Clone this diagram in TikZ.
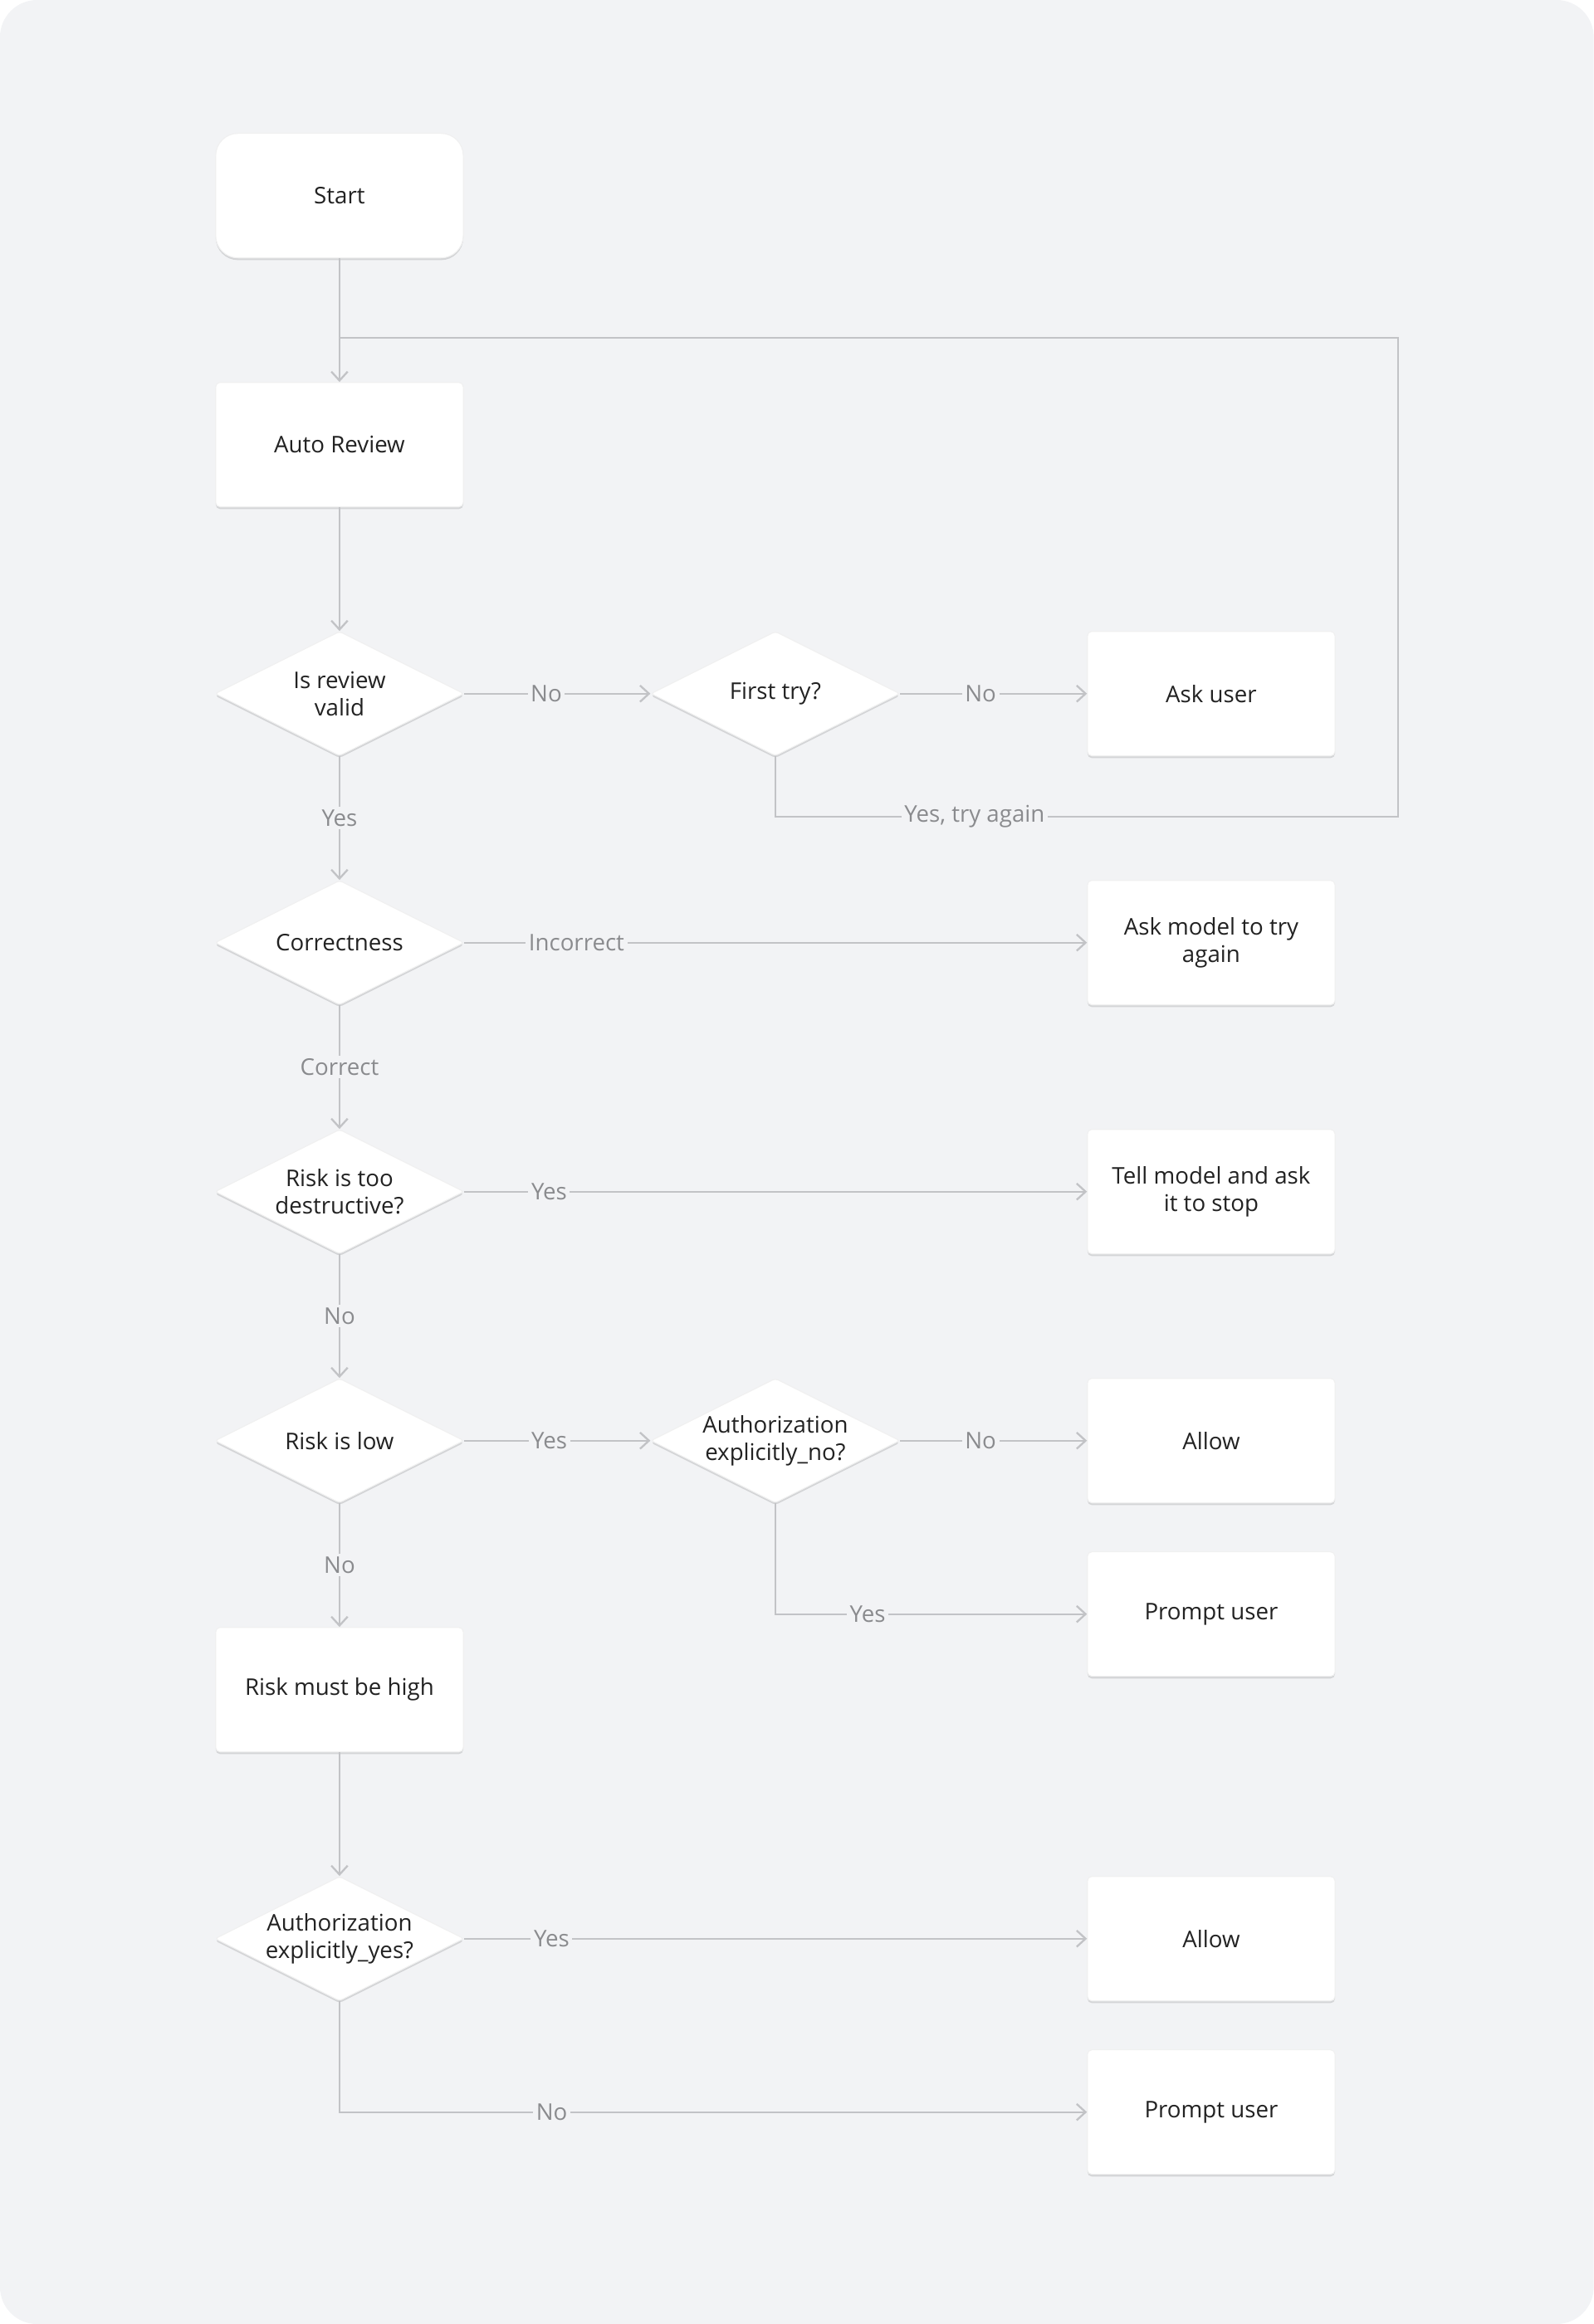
\documentclass[tikz,border=0pt]{standalone}
\usepackage{fontspec}
\setmainfont{Open Sans}
\usetikzlibrary{shapes.geometric,arrows.meta,shadows}
\definecolor{bg}{HTML}{F2F3F5}
\definecolor{ln}{HTML}{C2C3C6}
\definecolor{lab}{HTML}{8A8B8E}
\definecolor{tx}{HTML}{222222}
\begin{document}
\begin{tikzpicture}[x=1pt,y=-1pt,
  font=\fontsize{15.5}{18.5}\selectfont,
  base/.style={fill=white,draw=black!6,line width=0.6pt,text=tx,
    drop shadow={shadow xshift=0pt,shadow yshift=-1.5pt,opacity=0.12,fill=black}},
  box/.style={base,rectangle,rounded corners=3pt,minimum width=167pt,minimum height=84pt,align=center,inner sep=0pt},
  dia/.style={base,diamond,minimum width=168pt,minimum height=84pt,inner sep=0pt,rounded corners=2pt},
  e/.style={draw=ln,line width=1.3pt,-{Straight Barb[length=6pt,width=11pt]}},
  el/.style={draw=ln,line width=1.3pt},
  l/.style={fill=bg,text=lab,inner sep=2pt}]
\fill[bg,rounded corners=25pt] (0,0) rectangle (1075,1568);
\useasboundingbox (0,0) rectangle (1075,1568);
\node[box,rounded corners=15pt] (start) at (229,132) {Start};
\node[box] (auto) at (229,300) {Auto Review};
\node[dia,label={[align=center,text=tx]center:Is review\\valid}] (valid) at (229,468) {};
\node[dia,label={[align=center,text=tx]center:First try?}] (first) at (523,468) {};
\node[box] (askuser) at (817,468) {Ask user};
\node[dia,label={[align=center,text=tx]center:Correctness}] (corr) at (229,636) {};
\node[box] (askmodel) at (817,636) {Ask model to try\\again};
\node[dia,label={[align=center,text=tx]center:Risk is too\\destructive?}] (destr) at (229,804) {};
\node[box] (tell) at (817,804) {Tell model and ask\\it to stop};
\node[dia,label={[align=center,text=tx]center:Risk is low}] (low) at (229,972) {};
\node[dia,label={[align=center,text=tx]center:Authorization\\explicitly\_no?}] (authno) at (523,972) {};
\node[box] (allow1) at (817,972) {Allow};
\node[box] (prompt1) at (817,1089) {Prompt user};
\node[box] (high) at (229,1140) {Risk must be high};
\node[dia,label={[align=center,text=tx]center:Authorization\\explicitly\_yes?}] (authyes) at (229,1308) {};
\node[box] (allow2) at (817,1308) {Allow};
\node[box] (prompt2) at (817,1425) {Prompt user};
\coordinate (join) at (229,228);
\coordinate (lr) at (943,551);
\coordinate (ur) at (943,228);
\draw[e] (start) -- (auto);
\draw[e] (auto) -- (valid);
\draw[e] (valid) -- node[l,pos=0.44]{No} (first);
\draw[e] (first) -- node[l,pos=0.43]{No} (askuser);
\draw[el] (first.south) |- node[l,pos=0.66]{Yes, try again} (lr) -- (ur) -- (join);
\draw[e] (valid) -- node[l,pos=0.5]{Yes} (corr);
\draw[e] (corr) -- node[l,pos=0.18]{Incorrect} (askmodel);
\draw[e] (corr) -- node[l,pos=0.5]{Correct} (destr);
\draw[e] (destr) -- node[l,pos=0.136]{Yes} (tell);
\draw[e] (destr) -- node[l,pos=0.5]{No} (low);
\draw[e] (low) -- node[l,pos=0.456]{Yes} (authno);
\draw[e] (authno) -- node[l,pos=0.43]{No} (allow1);
\draw[e] (authno.south) |- node[l,pos=0.648]{Yes} (prompt1);
\draw[e] (low) -- node[l,pos=0.5]{No} (high);
\draw[e] (high) -- (authyes);
\draw[e] (authyes) -- node[l,pos=0.14]{Yes} (allow2);
\draw[e] (authyes.south) |- node[l,pos=0.642]{No} (prompt2);
\end{tikzpicture}
\end{document}
